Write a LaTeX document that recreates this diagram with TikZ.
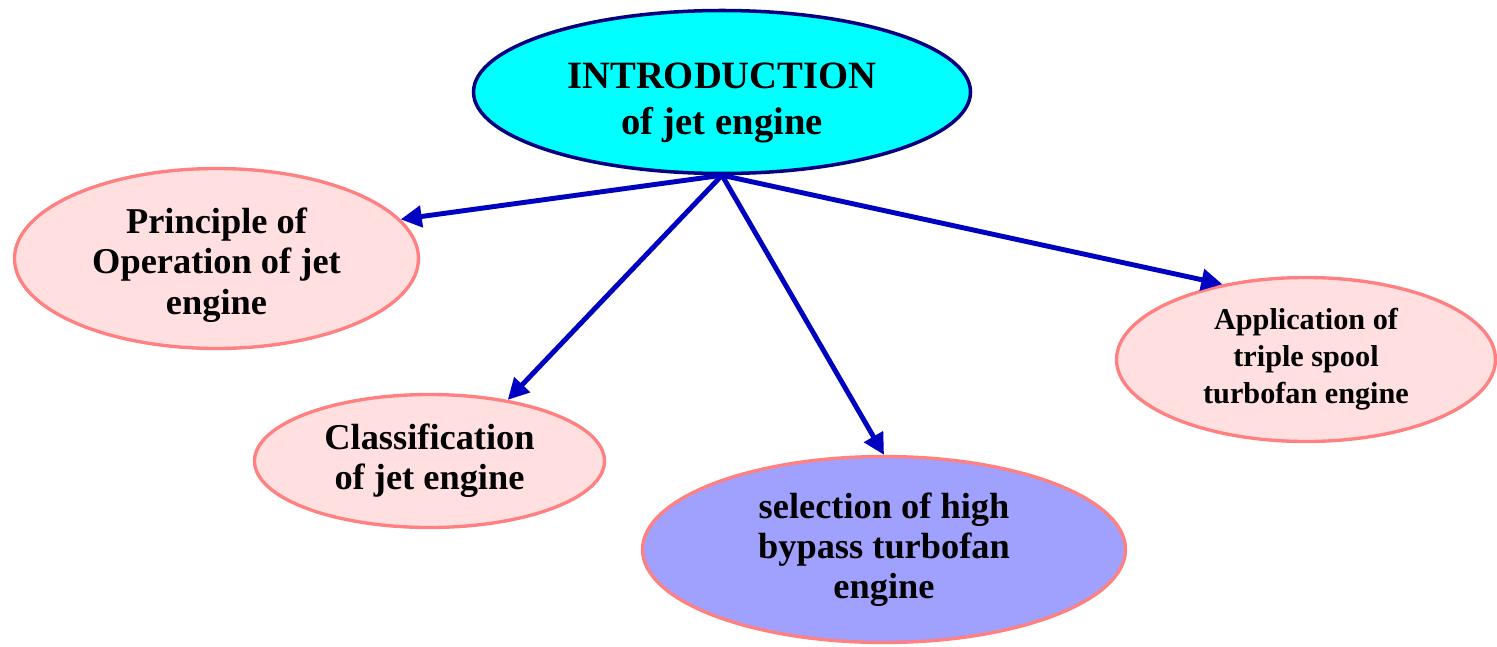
\documentclass[tikz,border=0pt]{standalone}
\usepackage{fontspec}
\setmainfont{Liberation Serif}
\usetikzlibrary{arrows.meta,shapes.geometric}
\definecolor{aqua}{RGB}{0,255,255}
\definecolor{navyline}{RGB}{0,0,128}
\definecolor{pinkfill}{RGB}{255,223,223}
\definecolor{pinkline}{RGB}{255,128,128}
\definecolor{lilac}{RGB}{160,160,255}
\definecolor{arrowblue}{RGB}{0,0,192}
\tikzset{
  topic/.style={ellipse,draw=navyline,fill=aqua,line width=2pt,inner sep=0pt,align=center,
    font=\fontsize{22}{26.6}\selectfont\bfseries},                 % main bubble
  sub/.style={ellipse,draw=pinkline,fill=pinkfill,line width=1.9pt,inner sep=0pt,align=center,
    font=\fontsize{20.7}{22.9}\selectfont\bfseries},               % child bubble
  link/.style={-{Triangle[length=12pt,width=12pt]},arrowblue,line width=2.8pt},
}

\begin{document}
\begin{tikzpicture}
  \useasboundingbox (0,0) rectangle (29.94,12.92);
  \node[topic,minimum width=9.94cm,minimum height=3.26cm] (intro) at (14.44,11.08)
    {\rule{0pt}{27pt}INTRODUCTION\\of jet engine};
  \node[sub,minimum width=8.08cm,minimum height=3.6cm] (principle) at (4.33,7.75)
    {\rule{0pt}{22pt}Principle of\\Operation of jet\\engine};
  \node[sub,minimum width=7.0cm,minimum height=2.66cm] (classif) at (8.59,3.70)
    {Classification\\of jet engine};
  \node[sub,fill=lilac,minimum width=9.66cm,minimum height=3.72cm] (select) at (17.68,1.93)
    {selection of high\\bypass turbofan\\engine};
  \node[sub,minimum width=7.58cm,minimum height=3.28cm,font=\fontsize{17.2}{21}\selectfont\bfseries] (applic) at (26.12,5.73)
    {Application of\\triple spool\\turbofan engine};
  % links from the main bubble
  \draw[link] (intro.south) -- (principle.12);
  \draw[link] (intro.south) -- (classif.38);
  \draw[link] (intro.south) -- (select.north);
  \draw[link] (intro.south) -- (applic.138);
\end{tikzpicture}
\end{document}
